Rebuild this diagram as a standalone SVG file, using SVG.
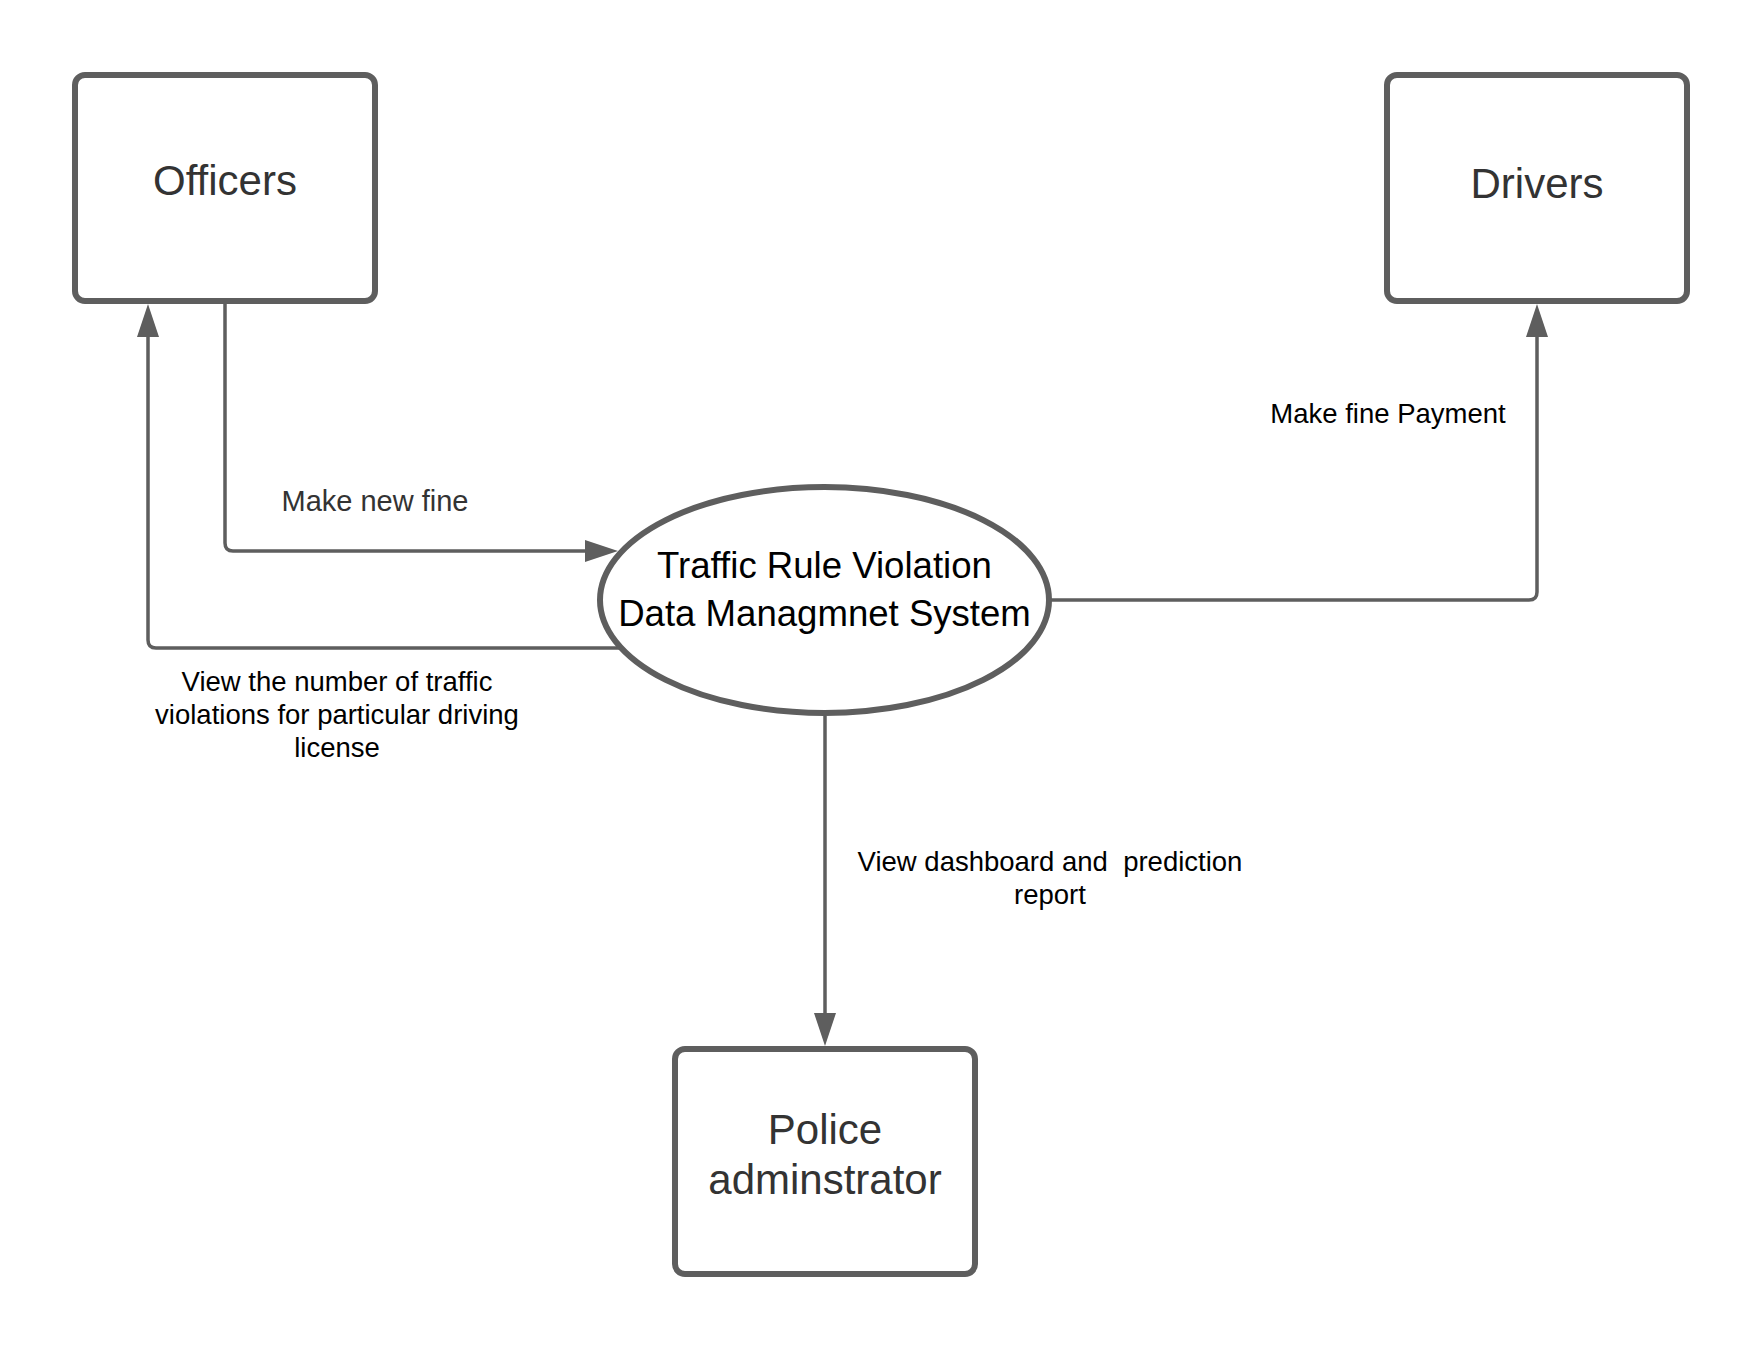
<svg xmlns="http://www.w3.org/2000/svg" width="1763" height="1350" viewBox="0 0 1763 1350">
<style>
.box{fill:#ffffff;stroke:#5e5e5e;stroke-width:6}
.ell{fill:#ffffff;stroke:#5e5e5e;stroke-width:6}
.conn{fill:none;stroke:#5e5e5e;stroke-width:3.5}
.nt{font-family:"Liberation Sans",Arial,sans-serif;font-size:42px;fill:#333333;text-anchor:middle}
.st{font-family:"Liberation Sans",Arial,sans-serif;font-size:36.6px;fill:#000000;text-anchor:middle}
.lb{font-family:"Liberation Sans",Arial,sans-serif;font-size:27.5px;fill:#000000;text-anchor:middle;white-space:pre}
</style>
<defs>
<marker id="arr" markerUnits="userSpaceOnUse" markerWidth="34" markerHeight="24" refX="0" refY="11" orient="auto" overflow="visible">
<path d="M0,0 L33,11 L0,22 Z" fill="#5e5e5e"/>
</marker>
</defs>
<rect width="1763" height="1350" fill="#ffffff"/>
<g id="connectors">
<path class="conn" d="M225,301 V543 Q225,551 233,551 H585" marker-end="url(#arr)"/>
<path class="conn" d="M620,648 H156 Q148,648 148,640 V337" marker-end="url(#arr)"/>
<path class="conn" d="M1049,600 H1529 Q1537,600 1537,592 V337" marker-end="url(#arr)"/>
<path class="conn" d="M825,716 V1013" marker-end="url(#arr)"/>
<text class="lb" x="375" y="511" style="fill:#333333;font-size:29px">Make new fine</text>
<text class="lb" x="337" y="691">View the number of traffic</text>
<text class="lb" x="337" y="724">violations for particular driving</text>
<text class="lb" x="337" y="757">license</text>
<text class="lb" x="1388" y="423">Make fine Payment</text>
<text class="lb" x="1050" y="871">View dashboard and  prediction</text>
<text class="lb" x="1050" y="904">report</text>
</g>
<g id="officers">
<rect class="box" x="75" y="75" width="300" height="226" rx="10"/>
<text class="nt" x="225" y="195">Officers</text>
</g>
<g id="drivers">
<rect class="box" x="1387" y="75" width="300" height="226" rx="10"/>
<text class="nt" x="1537" y="198">Drivers</text>
</g>
<g id="system">
<ellipse class="ell" cx="824.5" cy="600" rx="224.5" ry="113"/>
<text class="st" x="824.5" y="578">Traffic Rule Violation</text>
<text class="st" x="824.5" y="626">Data Managmnet System</text>
</g>
<g id="police">
<rect class="box" x="675" y="1049" width="300" height="225" rx="10"/>
<text class="nt" x="825" y="1144">Police</text>
<text class="nt" x="825" y="1194">adminstrator</text>
</g>
</svg>
